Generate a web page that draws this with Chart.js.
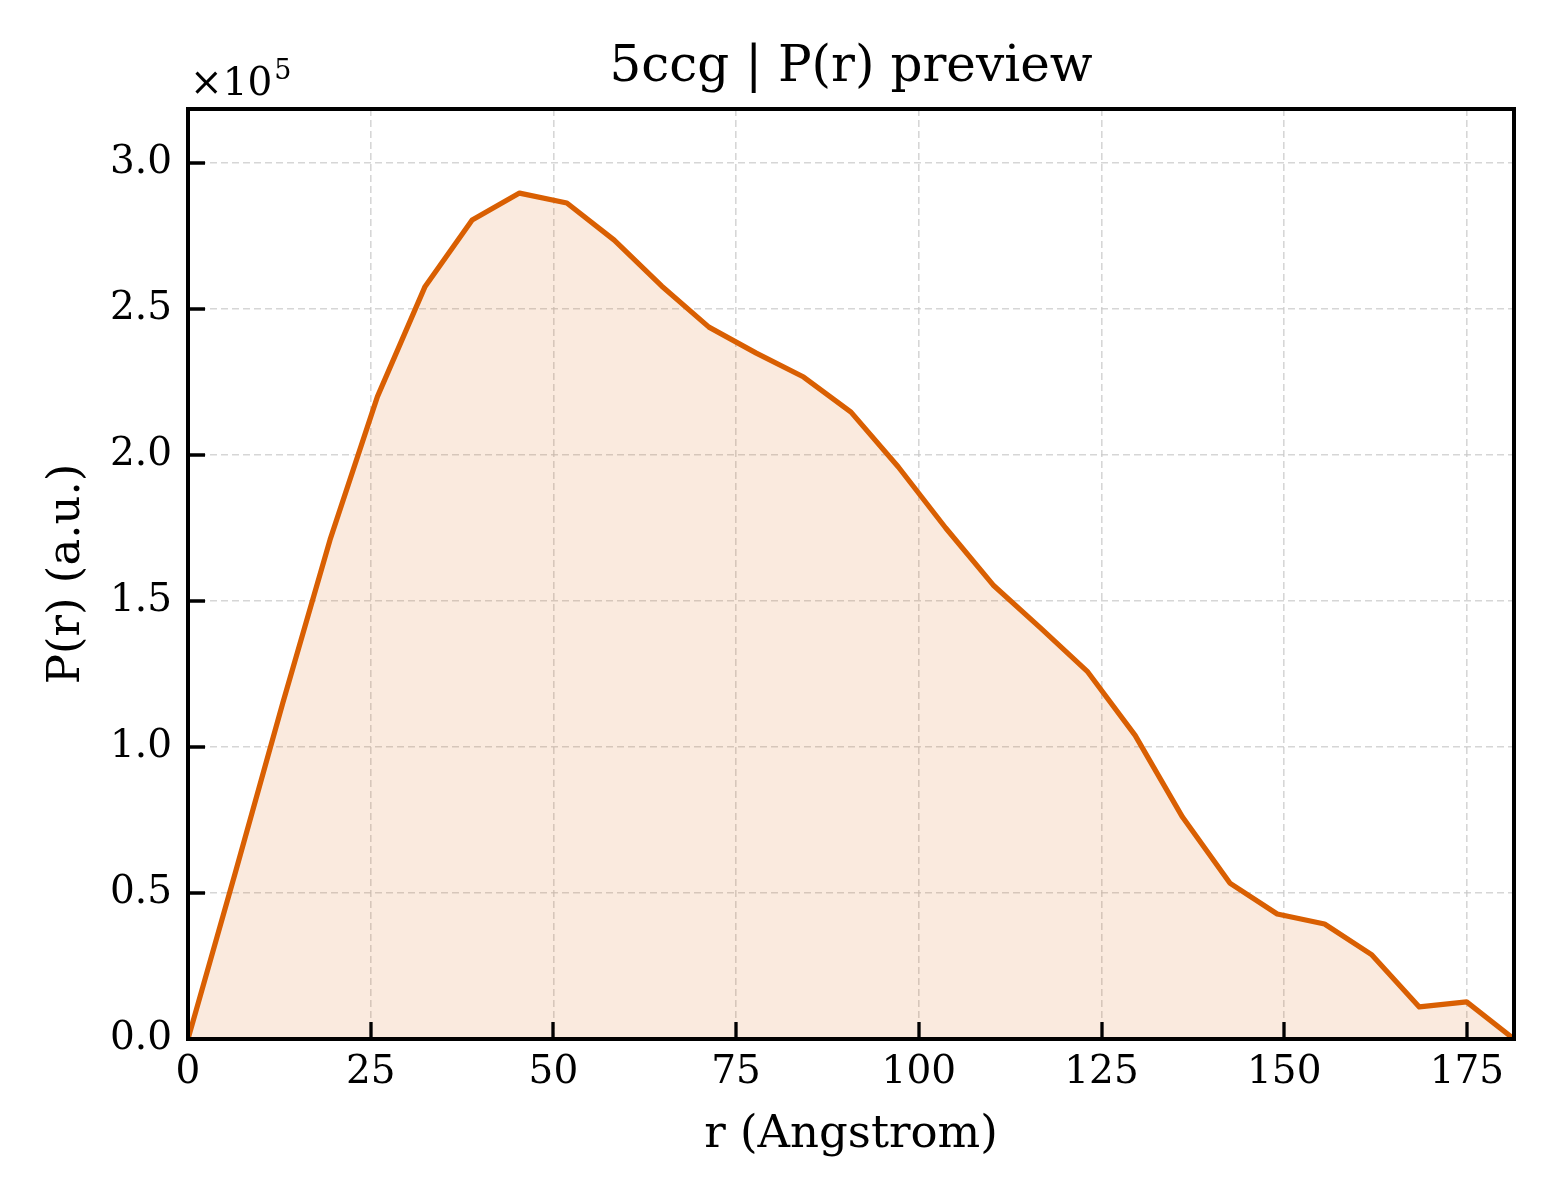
<!DOCTYPE html>
<html>
<head>
<meta charset="utf-8">
<script src="https://cdn.jsdelivr.net/npm/chart.js@4"></script>
<style>
  html, body { margin: 0; padding: 0; background: #ffffff; }
  #wrap { width: 1560px; height: 1200px; }
</style>
</head>
<body>
<div id="wrap"><canvas id="c" width="1560" height="1200"></canvas></div>
<script>
// ---- data ----
const rValues = [0, 6.48, 12.96, 19.44, 25.92, 32.4, 38.88, 45.36, 51.84, 58.32,
  64.8, 71.28, 77.76, 84.24, 90.72, 97.2, 103.68, 110.16, 116.64, 123.12,
  129.6, 136.08, 142.56, 149.04, 155.52, 162.0, 168.48, 174.96, 181.44];
const prValues = [0, 57000, 115000, 171000, 220000, 257500, 280500, 289700, 286300, 273600,
  257900, 243800, 234900, 226700, 214700, 195900, 175000, 155500, 140800, 125700,
  104000, 76000, 53400, 42800, 39400, 28800, 11000, 12700, 0];
const xTickValues = [0, 25, 50, 75, 100, 125, 150, 175];
const yTickValues = [0, 50000, 100000, 150000, 200000, 250000, 300000];
const titleText = '5ccg | P(r) preview';
const xLabel = 'r (Angstrom)';
const yLabel = 'P(r) (a.u.)';
const yExponent = 5;
const xMax = 181.44;
const yMax = 318500;

const SERIF = '"DejaVu Serif", "Liberation Serif", serif';
const LINE = '#d95f02';

const framePlugin = {
  id: 'frame',
  afterDraw(chart) {
    const ctx = chart.ctx;
    const a = chart.chartArea;
    const xs = chart.scales.x, ys = chart.scales.y;
    ctx.save();
    ctx.strokeStyle = '#000';
    ctx.lineWidth = 3.3;
    // inward ticks
    ctx.beginPath();
    xs.ticks.forEach(t => {
      const px = Math.round(xs.getPixelForValue(t.value));
      ctx.moveTo(px, a.bottom);
      ctx.lineTo(px, a.bottom - 17);
    });
    ys.ticks.forEach(t => {
      const py = Math.round(ys.getPixelForValue(t.value));
      ctx.moveTo(a.left, py);
      ctx.lineTo(a.left + 17, py);
    });
    ctx.stroke();
    // frame
    ctx.lineWidth = 4;
    ctx.strokeRect(a.left, a.top, a.right - a.left, a.bottom - a.top);
    // offset text ×10^5
    ctx.fillStyle = '#000';
    ctx.textBaseline = 'alphabetic';
    ctx.textAlign = 'left';
    ctx.font = '39px ' + SERIF;
    const base = '\u00d710';
    ctx.fillText(base, a.left + 2, a.top - 14);
    const w = ctx.measureText(base).width;
    ctx.font = '27px ' + SERIF;
    ctx.fillText(String(yExponent), a.left + 2 + w + 2, a.top - 30);
    ctx.restore();
  }
};

new Chart(document.getElementById('c'), {
  type: 'line',
  data: {
    datasets: [{
      data: rValues.map((r, i) => ({ x: r, y: prValues[i] })),
      borderColor: LINE,
      borderWidth: 5.2,
      borderJoinStyle: 'round',
      backgroundColor: 'rgba(217,95,2,0.13)',
      fill: 'origin',
      pointRadius: 0,
      tension: 0
    }]
  },
  options: {
    responsive: false,
    devicePixelRatio: 1,
    animation: false,
    layout: { padding: { left: 0, right: 46, top: 0, bottom: 0 } },
    plugins: {
      legend: { display: false },
      tooltip: { enabled: false },
      title: {
        display: true,
        fullSize: false,
        text: titleText,
        color: '#000',
        font: { family: SERIF, size: 50, weight: 'normal', lineHeight: 1.2 },
        padding: { top: 38, bottom: 11 }
      }
    },
    scales: {
      x: {
        type: 'linear',
        min: 0,
        max: xMax,
        afterBuildTicks(scale) { scale.ticks = xTickValues.map(v => ({ value: v })); },
        afterFit(scale) { scale.height = 161; },
        ticks: {
          color: '#000',
          font: { family: SERIF, size: 39 },
          padding: 10,
          maxRotation: 0,
          autoSkip: false,
          callback: v => String(v)
        },
        grid: {
          color: c => (c.tick && c.tick.value === 0) ? 'rgba(0,0,0,0)' : 'rgba(200,200,200,0.75)',
          lineWidth: 1.6,
          drawTicks: false
        },
        border: { display: false, dash: [7, 4] },
        title: {
          display: true,
          text: xLabel,
          color: '#000',
          font: { family: SERIF, size: 45, lineHeight: 1.2 },
          padding: { top: 0, bottom: 38 }
        }
      },
      y: {
        type: 'linear',
        min: 0,
        max: yMax,
        afterBuildTicks(scale) { scale.ticks = yTickValues.map(v => ({ value: v })); },
        afterFit(scale) { scale.width = 188; },
        ticks: {
          color: '#000',
          font: { family: SERIF, size: 39 },
          padding: 16,
          autoSkip: false,
          callback: v => (v / Math.pow(10, yExponent)).toFixed(1)
        },
        grid: {
          color: c => (c.tick && c.tick.value === 0) ? 'rgba(0,0,0,0)' : 'rgba(200,200,200,0.75)',
          lineWidth: 1.6,
          drawTicks: false
        },
        border: { display: false, dash: [7, 4] },
        title: {
          display: true,
          text: yLabel,
          color: '#000',
          font: { family: SERIF, size: 45, lineHeight: 1.2 },
          padding: { top: 40, bottom: 0 }
        }
      }
    }
  },
  plugins: [framePlugin]
});
</script>
</body>
</html>
